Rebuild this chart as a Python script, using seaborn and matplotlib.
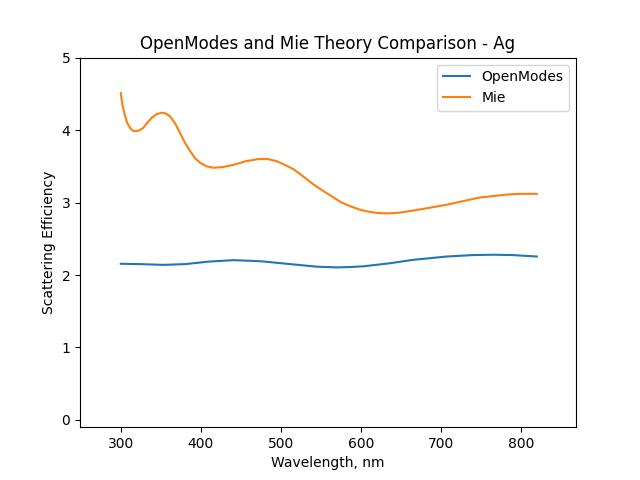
import matplotlib
matplotlib.use("Agg")
import matplotlib.pyplot as plt
import seaborn as sns
import pandas as pd

# Mie theory curve (wavelength nm, scattering efficiency)
mie_wl = [300, 302, 305.4, 308, 311.6, 315, 319, 323, 328, 333, 338.7, 345, 351, 356,
          361.6, 368, 374, 380, 386.6, 393, 399, 407, 415.8, 428, 440.8, 456, 472,
          484, 495, 505, 515.8, 528, 540.8, 553, 565.8, 576, 586.6, 599, 611.6,
          622, 632.5, 648, 665.8, 687, 707.5, 728, 749, 766, 782.5, 800, 820]
mie_q = [4.51, 4.35, 4.19, 4.10, 4.03, 3.99, 3.985, 3.995, 4.03, 4.10, 4.17, 4.22, 4.24, 4.23,
         4.19, 4.09, 3.96, 3.83, 3.71, 3.61, 3.55, 3.50, 3.48, 3.49, 3.52, 3.57, 3.60,
         3.60, 3.57, 3.52, 3.46, 3.36, 3.25, 3.16, 3.07, 3.00, 2.95, 2.90, 2.87,
         2.855, 2.85, 2.86, 2.89, 2.93, 2.97, 3.02, 3.07, 3.09, 3.11, 3.12, 3.12]

# OpenModes curve
om_wl = [300, 325, 353, 380, 410, 440.8, 475, 507.5, 545, 570, 586.6, 603, 635,
         665.8, 707.5, 740, 765.8, 790, 820]
om_q = [2.155, 2.15, 2.14, 2.15, 2.185, 2.205, 2.19, 2.155, 2.115, 2.105, 2.11, 2.12, 2.16,
        2.21, 2.255, 2.275, 2.28, 2.275, 2.255]

fig, ax = plt.subplots(figsize=(6.4, 4.8), dpi=100)

df_om = pd.DataFrame({"wl": om_wl, "q": om_q})
df_mie = pd.DataFrame({"wl": mie_wl, "q": mie_q})

sns.lineplot(data=df_om, x="wl", y="q", ax=ax, color="#1f77b4", label="OpenModes",
             sort=False, linewidth=1.5)
sns.lineplot(data=df_mie, x="wl", y="q", ax=ax, color="#ff7f0e", label="Mie",
             sort=False, linewidth=1.5)

ax.set_xlim(249, 869)
ax.set_ylim(-0.1, 5)
ax.set_xticks([300, 400, 500, 600, 700, 800])
ax.set_yticks([0, 1, 2, 3, 4, 5])
ax.set_xlabel("Wavelength, nm")
ax.set_ylabel("Scattering Efficiency")
ax.set_title("OpenModes and Mie Theory Comparison - Ag")
ax.legend(loc="upper right")

fig.savefig("out.png", dpi=100)
